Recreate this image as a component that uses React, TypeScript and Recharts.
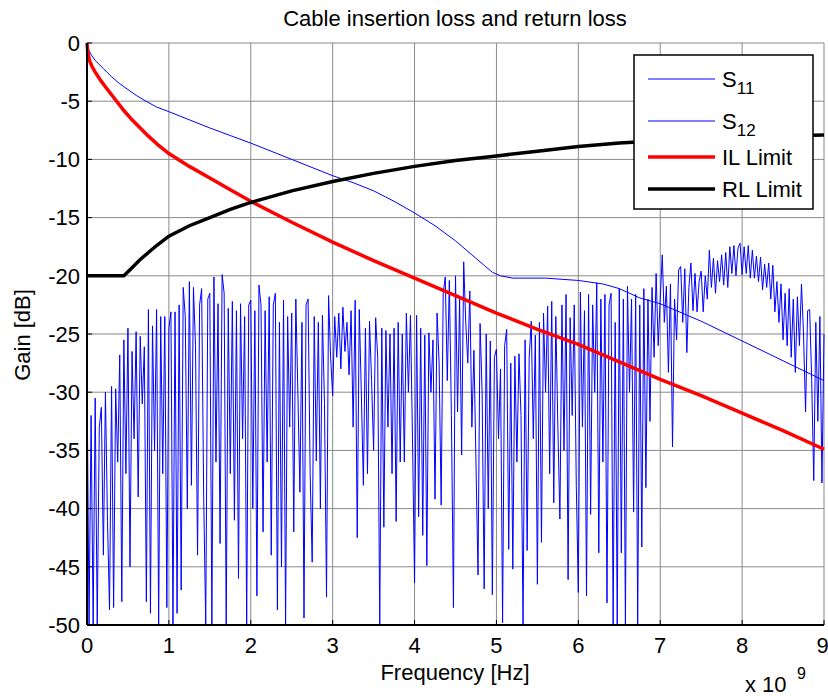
import { CartesianGrid, Line, LineChart, XAxis, YAxis } from "recharts";

const FONT = "'Liberation Sans', Arial, Helvetica, sans-serif";

// return loss sweep, one point every 25 MHz, one array per GHz
const SWEEP_STEP = 0.025;
const s11Ghz0 = [-28, -50, -32, -50, -30.5, -50, -33, -31.3, -44, -30, -41, -48.7, -29.5, -48.5, -29.7, -36, -26.8, -48, -25.5, -37, -24.5, -45, -26.5, -34, -24.8, -39, -25.2, -31, -26.1, -48, -22.9, -49, -24.3, -35, -22.9, -50, -23.5, -37, -23.5, -48.5];
const s11Ghz1 = [-24.5, -23.1, -50, -23.1, -49, -22.5, -47, -21, -23.5, -40, -20.5, -38, -21, -26, -44, -22.5, -21.1, -39, -50, -22, -21.5, -50, -20.1, -36, -22.4, -43, -19.9, -21.5, -50, -22.8, -37, -22.2, -41, -23, -46, -22.4, -34, -23.5, -50, -22.5];
const s11Ghz2 = [-22.1, -40, -23, -47.5, -20.8, -22.5, -42, -23, -36, -21.8, -44, -22.5, -21.5, -48.7, -24, -45, -22.1, -50, -23.5, -33, -23.2, -42, -22, -30, -38.6, -24, -49.4, -22.5, -22, -37, -44.6, -23.5, -35.9, -24, -40, -23.4, -31, -47.6, -21.7, -27];
const s11Ghz3 = [-30.3, -23.5, -27, -23.2, -28, -22.7, -26.5, -24, -28.5, -23, -33, -22.1, -42.5, -22.9, -30, -38, -24.5, -37, -23.9, -29, -35, -23.6, -27, -50, -24.5, -41.6, -24.7, -33, -25, -37, -24.5, -41.1, -24, -36, -25, -36, -23.2, -30, -23.4, -34];
const s11Ghz4 = [-46.4, -23.4, -40.7, -24.5, -42.3, -25.1, -44.9, -24.9, -30, -25.5, -39.2, -23.2, -27.5, -39.7, -21.5, -20.1, -29, -20.4, -32, -48.5, -20, -31.7, -22, -35.4, -18.8, -24, -27.5, -21.3, -33, -26.4, -36, -45.7, -24.1, -30, -46.9, -25, -40, -25.6, -47.4, -27];
const s11Ghz5 = [-26.3, -34, -28, -49.8, -26, -24.6, -43.5, -27.5, -45.2, -26.9, -36, -26.7, -32, -50, -25.5, -43.6, -27, -23.9, -34, -25.1, -46.5, -24, -42.9, -23.2, -30, -22.6, -37, -22.2, -39.5, -23.5, -33, -40.9, -22.5, -35, -21.6, -46.1, -23.6, -32, -22.5, -38];
const s11Ghz6 = [-47.2, -21.4, -33, -23, -47.5, -21.6, -40.5, -22.5, -30, -20.6, -43.8, -22, -36, -21.6, -48.1, -22.5, -21.5, -50, -24, -50, -21.1, -43.8, -22, -50, -20.9, -30, -22, -40.3, -21.6, -50, -22.5, -43.3, -21.1, -38.2, -22, -32.5, -21, -27, -19.8, -26];
const s11Ghz7 = [-22, -18.2, -24, -20.9, -28.3, -20.7, -34.7, -22, -25.5, -19.5, -19.2, -24, -19.4, -26.6, -21, -18.9, -23, -19.8, -23.1, -20.5, -19.6, -23.1, -20, -22, -17.8, -21, -18.5, -21.5, -18.7, -20.5, -18.2, -20.8, -18, -21, -17.5, -19.8, -17.4, -20, -17.6, -17.2];
const s11Ghz8 = [-19.9, -17.5, -19.8, -17.4, -20.2, -17.8, -20.2, -18.3, -20.5, -18.4, -21.2, -19, -21, -18.9, -22, -19.1, -23.1, -20.5, -24, -20.7, -25.5, -21.5, -26, -21.1, -27, -22, -28.3, -21.8, -26, -20.7, -25, -31.7, -23, -22.9, -29, -37.6, -24, -32.5, -23.5, -37.8, -25];

// insertion loss of the cable
const s12Freq = [0, 0.02, 0.05, 0.1, 0.2, 0.3, 0.4, 0.5, 0.6, 0.72, 0.85, 1, 1.25, 1.5, 1.75, 2, 2.5, 3, 3.25, 3.5, 3.75, 4, 4.25, 4.5, 4.7, 4.85, 4.95, 5.05, 5.2, 5.6, 6, 6.3, 6.5, 6.75, 7, 7.5, 8, 8.5, 9];
const s12Db = [0, -0.6, -1.0, -1.5, -2.2, -2.9, -3.5, -4.0, -4.5, -5.0, -5.5, -5.9, -6.6, -7.3, -7.95, -8.6, -10.0, -11.4, -12.0, -12.7, -13.6, -14.6, -15.7, -17.0, -18.2, -19.1, -19.7, -20.0, -20.2, -20.2, -20.4, -20.7, -21.1, -21.9, -22.4, -23.9, -25.6, -27.3, -29.0];

// limit masks
const ilFreq = [0, 0.01, 0.03, 0.06, 0.1, 0.175, 0.25, 0.35, 0.45, 0.55, 0.65, 0.75, 0.875, 1, 1.25, 1.5, 1.75, 2, 2.5, 3, 3.5, 4, 4.5, 5, 5.5, 6, 6.5, 7, 7.5, 8, 8.5, 9];
const ilDb = [0, -0.8, -1.5, -2.0, -2.5, -3.3, -4.0, -4.9, -5.8, -6.6, -7.3, -8.0, -8.8, -9.5, -10.6, -11.6, -12.6, -13.6, -15.4, -17.1, -18.7, -20.2, -21.7, -23.2, -24.6, -25.9, -27.4, -28.9, -30.3, -31.8, -33.3, -34.9];
const rlFreq = [0, 0.45, 0.55, 0.65, 0.75, 0.85, 1, 1.25, 1.5, 1.75, 2, 2.5, 3, 3.5, 4, 4.5, 5, 5.5, 6, 6.5, 7, 7.5, 8, 8.5, 9];
const rlDb = [-20, -20, -19.3, -18.6, -18.0, -17.4, -16.6, -15.7, -15.0, -14.3, -13.7, -12.7, -11.9, -11.2, -10.6, -10.1, -9.7, -9.3, -8.9, -8.6, -8.4, -8.2, -8.1, -8.0, -7.9];

const xTicks = [0, 1, 2, 3, 4, 5, 6, 7, 8, 9];
const yTicks = [-50, -45, -40, -35, -30, -25, -20, -15, -10, -5, 0];

const legendItems = [
  { name: "S", sub: "11", color: "#0000ff", width: 1 },
  { name: "S", sub: "12", color: "#0000ff", width: 1 },
  { name: "IL Limit", sub: "", color: "#ff0000", width: 3.5 },
  { name: "RL Limit", sub: "", color: "#000000", width: 3.5 },
];

const s11Sweep = [...s11Ghz0, ...s11Ghz1, ...s11Ghz2, ...s11Ghz3, ...s11Ghz4, ...s11Ghz5, ...s11Ghz6, ...s11Ghz7, ...s11Ghz8];
const s11Data = s11Sweep.map((db, i) => ({ f: Math.round(i * SWEEP_STEP * 1000) / 1000, db }));
const zip = (fs: number[], dbs: number[]) => fs.map((f, i) => ({ f, db: dbs[i] }));
const s12Data = zip(s12Freq, s12Db);
const ilData = zip(ilFreq, ilDb);
const rlData = zip(rlFreq, rlDb);

const tickStyle = { fill: "#000", fontSize: 22, fontFamily: FONT };
const frame = { stroke: "#000", strokeWidth: 2 };

export default function App() {
  return (
    <div style={{ position: "absolute", left: 0, top: 0, width: 828, height: 696, background: "#fff" }}>
      <LineChart width={828} height={696} margin={{ top: 43, right: 4, bottom: 41, left: 47 }}>
        <CartesianGrid xAxisId="bottom" yAxisId="left" stroke="#8a8a8a" />
        <XAxis
          xAxisId="bottom"
          type="number"
          dataKey="f"
          domain={[0, 9]}
          ticks={xTicks}
          height={30}
          axisLine={frame}
          tickLine={{ stroke: "#000" }}
          tickSize={-5}
          tickMargin={17}
          tick={tickStyle}
        />
        <XAxis
          xAxisId="top"
          orientation="top"
          type="number"
          dataKey="f"
          domain={[0, 9]}
          ticks={xTicks}
          height={0}
          axisLine={frame}
          tickLine={{ stroke: "#000" }}
          tickSize={-5}
          tick={false}
        />
        <YAxis
          yAxisId="left"
          type="number"
          domain={[-50, 0]}
          ticks={yTicks}
          width={40}
          axisLine={frame}
          tickLine={{ stroke: "#000" }}
          tickSize={-5}
          tickMargin={12}
          tick={tickStyle}
        />
        <YAxis
          yAxisId="right"
          orientation="right"
          type="number"
          domain={[-50, 0]}
          ticks={yTicks}
          width={0}
          axisLine={frame}
          tickLine={{ stroke: "#000" }}
          tickSize={-5}
          tick={false}
        />
        <Line xAxisId="bottom" yAxisId="left" data={s11Data} dataKey="db" stroke="#0000ff" strokeWidth={1} dot={false} isAnimationActive={false} />
        <Line xAxisId="bottom" yAxisId="left" data={s12Data} dataKey="db" stroke="#0000ff" strokeWidth={1} dot={false} isAnimationActive={false} />
        <Line xAxisId="bottom" yAxisId="left" data={ilData} dataKey="db" stroke="#ff0000" strokeWidth={3.5} dot={false} isAnimationActive={false} />
        <Line xAxisId="bottom" yAxisId="left" data={rlData} dataKey="db" stroke="#000000" strokeWidth={3.5} dot={false} isAnimationActive={false} />
      </LineChart>

      <svg width={828} height={696} style={{ position: "absolute", left: 0, top: 0, pointerEvents: "none" }} fontFamily={FONT} fill="#000">
        <text x={455} y={26} fontSize={22} textAnchor="middle">Cable insertion loss and return loss</text>
        <text x={455} y={680} fontSize={22} textAnchor="middle">Frequency [Hz]</text>
        <text x={30} y={335} fontSize={22} textAnchor="middle" transform="rotate(-90 30 335)">Gain [dB]</text>
        <text x={745} y={692} fontSize={22}>x 10</text>
        <text x={797} y={679} fontSize={16}>9</text>

        <rect x={634} y={55} width={179} height={154} fill="#fff" stroke="#000" strokeWidth={1.5} />
        {legendItems.map((item, i) => {
          const cy = [79, 121, 157, 189][i];
          return (
            <g key={i}>
              <line x1={648} x2={715} y1={cy} y2={cy} stroke={item.color} strokeWidth={item.width} />
              <text x={722} y={cy + 8} fontSize={22}>
                {item.name}
                {item.sub && (
                  <tspan fontSize={17} dy={7}>{item.sub}</tspan>
                )}
              </text>
            </g>
          );
        })}
      </svg>
    </div>
  );
}
